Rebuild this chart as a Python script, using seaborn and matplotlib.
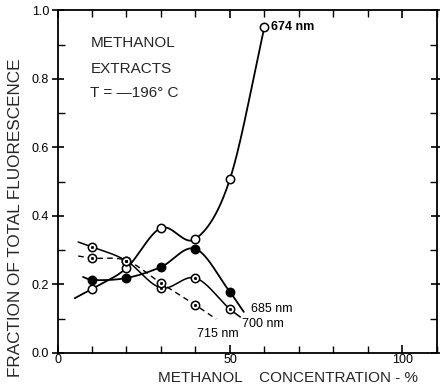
import numpy as np
import pandas as pd
import matplotlib
matplotlib.use("Agg")
import matplotlib.pyplot as plt
import seaborn as sns
from matplotlib.ticker import MultipleLocator, FixedLocator

# ---- data ----
conc = [10, 20, 30, 40, 50, 60]
f674 = [0.187, 0.248, 0.365, 0.333, 0.508, 0.952]
conc5 = [10, 20, 30, 40, 50]
f685 = [0.213, 0.219, 0.251, 0.304, 0.178]
f700 = [0.310, 0.269, 0.190, 0.219, 0.128]
conc4 = [10, 20, 30, 40]
f715 = [0.277, 0.270, 0.204, 0.140]

start674, end674 = (5.0, 0.160), None
start685, end685 = (7.4, 0.222), (54.0, 0.120)
start700, end700 = (6.0, 0.324), (53.0, 0.105)
start715, end715 = (6.0, 0.283), (46.0, 0.099)

labels = ["674 nm", "685 nm", "700 nm", "715 nm"]
label_pos = [(62.0, 0.952), (56.0, 0.128), (53.4, 0.085), (40.4, 0.055)]

x_ticks = [0, 50, 100]
y_ticks = [0.0, 0.2, 0.4, 0.6, 0.8, 1.0]


def smooth(xs, ys, n=40):
    xs = np.asarray(xs, float)
    ys = np.asarray(ys, float)
    m = np.empty_like(ys)
    m[1:-1] = (ys[2:] - ys[:-2]) / (xs[2:] - xs[:-2])
    m[0] = (ys[1] - ys[0]) / (xs[1] - xs[0])
    m[-1] = (ys[-1] - ys[-2]) / (xs[-1] - xs[-2])
    ox, oy = [], []
    for i in range(len(xs) - 1):
        h = xs[i + 1] - xs[i]
        t = np.linspace(0, 1, n, endpoint=(i == len(xs) - 2))
        h00 = 2 * t**3 - 3 * t**2 + 1
        h10 = t**3 - 2 * t**2 + t
        h01 = -2 * t**3 + 3 * t**2
        h11 = t**3 - t**2
        ox.append(xs[i] + t * h)
        oy.append(h00 * ys[i] + h10 * h * m[i] + h01 * ys[i + 1] + h11 * h * m[i + 1])
    return np.concatenate(ox), np.concatenate(oy)


def with_ends(xs, ys, start, end):
    xx, yy = list(xs), list(ys)
    if start is not None:
        xx = [start[0]] + xx
        yy = [start[1]] + yy
    if end is not None:
        xx = xx + [end[0]]
        yy = yy + [end[1]]
    return xx, yy


sns.set_theme(style="white")
plt.rcParams['font.family'] = ['Liberation Sans', 'DejaVu Sans']

fig = plt.figure(figsize=(4.4, 3.86), dpi=100)
ax = fig.add_axes([0.1307, 0.0855, 0.993 - 0.1307, 0.9728 - 0.0855])

series = [
    (conc, f674, start674, end674, '-', 1.3),
    (conc5, f685, start685, end685, '-', 1.3),
    (conc5, f700, start700, end700, '-', 1.1),
    (conc4, f715, start715, end715, (0, (4, 3)), 1.0),
]
for xs, ys, s, e, ls, lw in series:
    lx, ly = with_ends(xs, ys, s, e)
    sx, sy = smooth(lx, ly)
    sns.lineplot(x=sx, y=sy, ax=ax, color='black', lw=lw, linestyle=ls,
                 estimator=None, sort=False)

ms = 36
sns.scatterplot(x=conc, y=f674, ax=ax, s=ms, color='white', edgecolor='black',
                linewidth=1.1, zorder=5)
sns.scatterplot(x=conc5, y=f685, ax=ax, s=ms, color='black', edgecolor='black',
                linewidth=1.1, zorder=5)
for xs, ys in [(conc5, f700), (conc4, f715)]:
    sns.scatterplot(x=xs, y=ys, ax=ax, s=ms, color='white', edgecolor='black',
                    linewidth=1.1, zorder=5)
    sns.scatterplot(x=xs, y=ys, ax=ax, s=3, color='black', edgecolor='black',
                    linewidth=0.5, zorder=6)

for lab, (lx, ly) in zip(labels, label_pos):
    ax.text(lx, ly, lab, fontsize=9, ha='left', va='center', color='black',
            fontweight='bold' if lab == "674 nm" else 'normal')

ax.text(9.5, 0.905, "METHANOL", fontsize=11, ha='left', va='center')
ax.text(9.5, 0.830, "EXTRACTS", fontsize=11, ha='left', va='center')
ax.text(9.5, 0.758, "T = —196° C", fontsize=11, ha='left', va='center')

ax.set_xlim(0, 110)
ax.set_ylim(0, 1.0)
ax.xaxis.set_major_locator(FixedLocator(x_ticks))
ax.xaxis.set_minor_locator(MultipleLocator(10))
ax.yaxis.set_major_locator(FixedLocator(y_ticks))
ax.yaxis.set_minor_locator(MultipleLocator(0.1))
ax.set_xticklabels([str(v) for v in x_ticks], fontsize=9)
ax.set_yticklabels([f"{v:.1f}" for v in y_ticks], fontsize=9)

ax.tick_params(axis='both', which='both', color='black', labelcolor='black')
ax.tick_params(axis='y', which='major', direction='inout', length=8, width=1.2,
               left=True, right=True, pad=2)
ax.tick_params(axis='y', which='minor', direction='in', length=5, width=1.0,
               left=True, right=True)
ax.tick_params(axis='x', which='major', direction='in', length=6, width=1.2,
               bottom=True, top=True, pad=1)
ax.tick_params(axis='x', which='minor', direction='in', length=5, width=1.0,
               bottom=True, top=True)

for sp in ax.spines.values():
    sp.set_visible(True)
    sp.set_color('black')
    sp.set_linewidth(1.3)

ax.set_xlabel("METHANOL    CONCENTRATION - %", fontsize=11)
ax.set_ylabel("FRACTION OF TOTAL FLUORESCENCE", fontsize=12.3)
ax.xaxis.set_label_coords(0.607, -0.052)
ax.yaxis.set_label_coords(-0.092, 0.395)

fig.savefig("out.png", dpi=100, facecolor='white')
